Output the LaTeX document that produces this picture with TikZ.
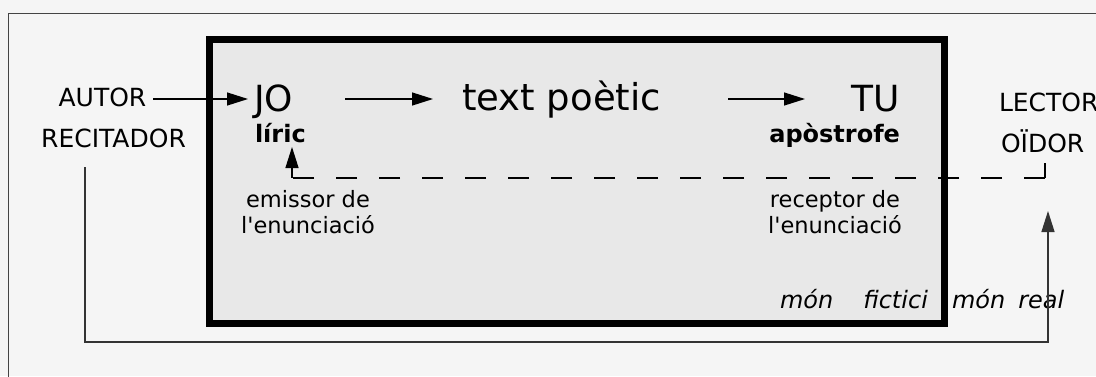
\documentclass[tikz,border=0pt]{standalone}
\usepackage{fontspec}
\setmainfont{DejaVu Sans}
\usetikzlibrary{arrows.meta}
\definecolor{bgc}{HTML}{F5F5F5}
\definecolor{boxc}{HTML}{E8E8E8}
\definecolor{framec}{HTML}{444444}
\definecolor{connc}{HTML}{333333}
\begin{document}
\begin{tikzpicture}[x=1pt,y=-1pt,
  txt/.style={inner sep=0pt,outer sep=0pt,text=black},
  caps/.style={txt,font=\fontsize{25}{30}\selectfont},
  big/.style={txt,font=\fontsize{36}{40}\selectfont},
  sub/.style={txt,font=\bfseries\fontsize{24}{28}\selectfont},
  note/.style={txt,align=center,font=\fontsize{22.5}{26}\selectfont},
  world/.style={txt,font=\itshape\fontsize{24}{28}\selectfont},
  conn/.style={line width=1.3pt},
  arr/.style={conn,-{Triangle[length=21pt,width=13pt]}},
  dashline/.style={conn,dash pattern=on 21pt off 22pt},
]
\useasboundingbox (0,0) rectangle (1096,376);
\fill[bgc] (0,0) rectangle (1096,376);
\clip (0,0) rectangle (1096,376);
\draw[line width=1.8pt,framec] (8.5,400) -- (8.5,13.5) -- (1120,13.5);
\draw[line width=7pt,fill=boxc] (209.5,39.5) rectangle (944,323.5);

\node[caps,anchor=base] (autor) at (102.5,106) {AUTOR};
\node[caps,anchor=base] (recit) at (113.5,147) {RECITADOR};
\node[big,anchor=base west] (jo) at (254,111) {JO};
\node[sub,anchor=base west] (liric) at (255,142) {líric};
\node[txt,font=\fontsize{37}{40}\selectfont,anchor=base] (tp) at (561.5,110) {text poètic};
\node[big,anchor=base east] (tu) at (900,111) {TU};
\node[sub,anchor=base east] (apos) at (900,142) {apòstrofe};
\node[note,anchor=base] (emis) at (308,233) {emissor de\\l\textquotesingle enunciació};
\node[note,anchor=base] (recep) at (835,233) {receptor de\\l\textquotesingle enunciació};
\node[world,anchor=base west] (fict) at (780,308) {món\hspace{30pt}fictici};
\node[world,anchor=base west] (real) at (952,308) {món\hspace{13pt}real};
\node[caps,anchor=base west] (lector) at (999,111) {LECTOR};
\node[caps,anchor=base west] (oidor) at (1001,152) {OÏDOR};

\coordinate (ya) at (0,99);
\draw[arr] ([xshift=50.5pt]autor.base |- ya) -- ([xshift=-6pt]jo.base west |- ya);
\draw[arr] ([xshift=91pt]jo.base west |- ya) -- ([xshift=-128.5pt]tp.base |- ya);
\draw[arr] ([xshift=166.5pt]tp.base |- ya) -- ([xshift=-95pt]tu.base east |- ya);

\coordinate (d1) at ([shift={(44,11)}]oidor.base west);
\coordinate (d2) at ([shift={(44,26)}]oidor.base west);
\coordinate (d3) at ([shift={(37,36)}]liric.base west);
\draw[conn] (d1) -- (d2);
\draw[dashline] (d2) -- (d3);
\draw[arr] (d3) -- ([shift={(37,5)}]liric.base west);

\draw[arr,draw=connc] ([shift={(-28.5,20)}]recit.base)
  |- ([shift={(47,190)}]oidor.base west) -- ([shift={(47,59)}]oidor.base west);
\end{tikzpicture}
\end{document}
